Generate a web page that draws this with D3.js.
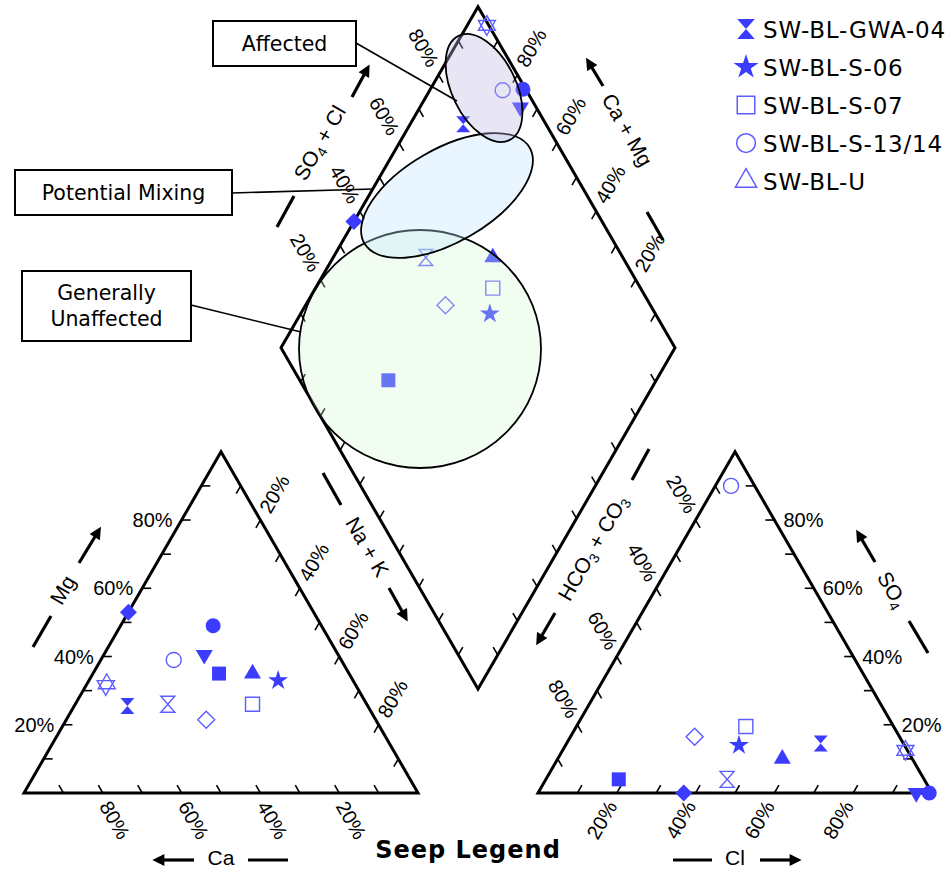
<!DOCTYPE html>
<html><head><meta charset="utf-8">
<script src="https://cdn.jsdelivr.net/npm/d3@7/dist/d3.min.js"></script>
<style>body{margin:0;background:#fff}svg{display:block}</style>
</head><body>
<script>
// ---------------- DATA ----------------
const sampleIds = ["seep-a","seep-b","seep-c","SW-BL-S-13/14","seep-d","seep-e","SW-BL-S-06","SW-BL-U","seep-f","SW-BL-GWA-04","seep-g","SW-BL-S-07","seep-h"];
// cations (% meq)
const caPct   = [47,   27.5, 34,   42.5, 33,   24.5, 19, 63,  63.5, 61,   50.5, 29, 43];
const mgPct   = [53,   49,   40.5, 39,   35,   35,   33, 32,  31.5, 25.5, 26,   26, 21.5];
const naKPct  = [0,    23.5, 25.5, 18.5, 32,   40.5, 48, 5,   5,    13.5, 23.5, 45, 35.5];
// anions (% meq)
const hco3Pct = [63,   0.7,  4,    6,    77.5, 33,   42, 0.5, 0.5,  21,   50,   37.5, 52];
const so4Pct  = [0,    0,    0,    90,   4,    10,   14, 12.5,12.5, 14.5, 4,    19.5, 16.5];
const clPct   = [37,   99.3, 96,   4,    18.5, 57,   44, 87,  87,   64.5, 46,   43,   31.5];

const tickPct  = [10,20,30,40,50,60,70,80,90];
const labelPct = [20,40,60,80];
const legendNames = ["SW-BL-GWA-04","SW-BL-S-06","SW-BL-S-07","SW-BL-S-13/14","SW-BL-U"];
const calloutTexts = [["Affected"],["Potential Mixing"],["Generally","Unaffected"]];

// ---------------- STYLES ----------------
const markerStyle = {
  "seep-a":{shape:"diamond",filled:true},
  "seep-b":{shape:"circle",filled:true},
  "seep-c":{shape:"triDown",filled:true},
  "SW-BL-S-13/14":{shape:"circle",filled:false},
  "seep-d":{shape:"square",filled:true},
  "seep-e":{shape:"triUp",filled:true},
  "SW-BL-S-06":{shape:"star",filled:true},
  "SW-BL-U":{shape:"triUp",filled:false},
  "seep-f":{shape:"triDown",filled:false},
  "SW-BL-GWA-04":{shape:"hourglass",filled:true},
  "seep-g":{shape:"hourglass",filled:false},
  "SW-BL-S-07":{shape:"square",filled:false},
  "seep-h":{shape:"diamond",filled:false}
};
const FILL="#3c3cff", OPEN="#5c5cff";
const LABEL_FONT="'Liberation Sans', Arial, sans-serif";
const BOX_FONT="'DejaVu Sans', Verdana, sans-serif";

// ---------------- GEOMETRY ----------------
const W=946,H=870;
const S=394, GAP=120, X0=24, BASE=793;
const R3=Math.sqrt(3);
const HT=S*R3/2;
const X1=X0+S+GAP;

const svg=d3.select("body").append("svg").attr("width",W).attr("height",H);

const frac=d3.scaleLinear().domain([0,100]).range([0,1]);
const catX=d3.scaleLinear().domain([0,100]).range([X0,X0+S]);
const anX =d3.scaleLinear().domain([0,100]).range([X1,X1+S]);
const triY=d3.scaleLinear().domain([0,100]).range([BASE,BASE-HT]);

const CaV=[X0,BASE], NaV=[X0+S,BASE], MgV=[X0+S/2,BASE-HT];
const HcV=[X1,BASE], ClV=[X1+S,BASE], SoV=[X1+S/2,BASE-HT];
const DB=[X0+S+GAP/2, BASE-GAP*R3/2];
const DL=[DB[0]-S/2, DB[1]-HT], DT=[DB[0], DB[1]-2*HT], DR=[DB[0]+S/2, DB[1]-HT];
const dNaX=d3.scaleLinear().domain([0,100]).range([0,DB[0]-DL[0]]);
const dNaY=d3.scaleLinear().domain([0,100]).range([0,DB[1]-DL[1]]);
const dScX=d3.scaleLinear().domain([0,100]).range([0,DT[0]-DL[0]]);
const dScY=d3.scaleLinear().domain([0,100]).range([0,DT[1]-DL[1]]);

const samples=sampleIds.map((id,i)=>({
  id, ca:caPct[i], mg:mgPct[i], na:naKPct[i], hc:hco3Pct[i], so:so4Pct[i], cl:clPct[i]
}));
const catPos=d=>[catX(d.na+d.mg/2), triY(d.mg)];
const anPos =d=>[anX(d.cl+d.so/2), triY(d.so)];
const diaPos=d=>{const sc=d.so+d.cl; return [DL[0]+dNaX(d.na)+dScX(sc), DL[1]+dNaY(d.na)+dScY(sc)];};

// ---------------- FRAMES ----------------
const frame=svg.append("g");
const line=d3.line();
frame.append("path").attr("d",line([CaV,NaV,MgV])+"Z");
frame.append("path").attr("d",line([HcV,ClV,SoV])+"Z");
frame.append("path").attr("d",line([DL,DT,DR,DB])+"Z");
frame.selectAll("path").attr("fill","none").attr("stroke","#000").attr("stroke-width",3).attr("stroke-linejoin","miter");

const TL=9, C5=0.5, S8=R3/2;
function edgeTicks(p0,p1,dir,labels){
  const g=svg.append("g");
  const pts=tickPct.map(v=>{const f=frac(v);return {v,x:p0[0]+f*(p1[0]-p0[0]),y:p0[1]+f*(p1[1]-p0[1])};});
  g.selectAll("line").data(pts).join("line")
    .attr("x1",d=>d.x).attr("y1",d=>d.y)
    .attr("x2",d=>d.x+dir[0]*TL).attr("y2",d=>d.y+dir[1]*TL)
    .attr("stroke","#000").attr("stroke-width",1.6);
  if(!labels) return;
  const lp=pts.filter(d=>labelPct.includes(d.v));
  g.selectAll("text").data(lp).join("text")
    .attr("font-family",LABEL_FONT).attr("font-size",20).attr("fill","#000")
    .attr("text-anchor",labels.anchor||"middle")
    .attr("dy","0.35em")
    .attr("transform",d=>`translate(${d.x+labels.dx},${d.y+labels.dy}) rotate(${labels.rot})`)
    .text(d=>d.v+"%");
}
// cation triangle
edgeTicks(CaV,MgV,[1,0],{dx:-9,dy:0,rot:0,anchor:"end"});
edgeTicks(NaV,CaV,[-C5,-S8],{dx:12,dy:27,rot:60});
edgeTicks(MgV,NaV,[-C5,S8],{dx:14,dy:-26,rot:-60});
// anion triangle
edgeTicks(ClV,SoV,[-1,0],{dx:9,dy:0,rot:0,anchor:"start"});
edgeTicks(HcV,ClV,[C5,-S8],{dx:-15,dy:27,rot:-60});
edgeTicks(SoV,HcV,[C5,S8],{dx:-14,dy:-26,rot:60});
// diamond
edgeTicks(DL,DT,[C5,S8],{dx:-15,dy:-27,rot:60});
edgeTicks(DR,DT,[-C5,S8],{dx:14,dy:-27,rot:-60});
edgeTicks(DL,DB,[C5,-S8],null);
edgeTicks(DR,DB,[-C5,-S8],null);

// ---------------- AXIS TITLES ----------------
const defs=svg.append("defs");
defs.append("marker").attr("id","ah").attr("viewBox","0 0 10 10").attr("refX",2).attr("refY",5)
  .attr("markerWidth",13).attr("markerHeight",12).attr("markerUnits","userSpaceOnUse").attr("orient","auto")
  .append("path").attr("d","M0,0 L10,5 L0,10 Z").attr("fill","#000");
function seg(x1,y1,x2,y2,arrow){
  svg.append("line").attr("x1",x1).attr("y1",y1).attr("x2",x2).attr("y2",y2)
    .attr("stroke","#000").attr("stroke-width",3.2)
    .attr("marker-end",arrow?"url(#ah)":null);
}
function title(x,y,rot,parts){
  const t=svg.append("text").attr("font-family",LABEL_FONT).attr("font-size",21)
    .attr("text-anchor","middle").attr("transform",`translate(${x},${y}) rotate(${rot})`).attr("y",7);
  let down=false;
  parts.forEach(p=>{
    if(typeof p==="string"){
      const ts=t.append("tspan").text(p);
      if(down){ts.attr("dy",-4); down=false;}
    } else {
      t.append("tspan").attr("font-size",14).attr("dy",4).text(p.sub);
      down=true;
    }
  });
}
title(63,590,-60,["Mg"]);
seg(33,647,51,616,false); seg(79,563,96,535,true);
title(221,858,0,["Ca"]);
seg(194,860,162,860,true); seg(248,860,288,860,false);
title(367,547,60,["Na + K"]);
seg(323,473,341,505,false); seg(389,588,403,613,true);
title(593,548,-60,["HCO",{sub:"3"}," + CO",{sub:"3"}]);
seg(555,613,541,637,true); seg(632,480,649,449,false);
title(735,858,0,["Cl"]);
seg(673,860,712,860,false); seg(760,860,792,860,true);
title(892,590,60,["SO",{sub:"4"}]);
seg(875,562,861,538,true); seg(909,621,928,653,false);
title(320,143,-60,["SO",{sub:"4"}," + Cl"]);
seg(277,227,294,196,false); seg(352,97,365,73,true);
title(627,130,60,["Ca + Mg"]);
seg(603,86,591,66,true); seg(647,212,663,240,false);

// ---------------- MARKERS ----------------
function markerPath(shape,k){
  switch(shape){
    case "circle": return d3.symbol(d3.symbolCircle, Math.PI*Math.pow(7.5*k,2))();
    case "square": {const r=7*k; return `M${-r},${-r}h${2*r}v${2*r}h${-2*r}Z`;}
    case "diamond":{const r=8.5*k; return `M0,${-r}L${r},0L0,${r}L${-r},0Z`;}
    case "triUp":  {const a=17*k,h=a*R3/2; return `M0,${-2*h/3}L${a/2},${h/3}L${-a/2},${h/3}Z`;}
    case "triDown":{const a=17*k,h=a*R3/2; return `M0,${2*h/3}L${a/2},${-h/3}L${-a/2},${-h/3}Z`;}
    case "star":   return d3.symbol(d3.symbolStar, Math.pow(10.5*k,2)/0.8908)();
    case "hourglass":{const w=7*k,h=8*k; return `M${-w},${-h}L${w},${-h}L${-w},${h}L${w},${h}Z`;}
  }
}
function drawMarkers(posFn){
  const g=svg.append("g");
  g.selectAll("path").data(samples).join("path")
    .attr("transform",d=>{const p=posFn(d);return `translate(${p[0]},${p[1]})`;})
    .attr("d",d=>markerPath(markerStyle[d.id].shape,1))
    .attr("fill",d=>markerStyle[d.id].filled?FILL:"none")
    .attr("stroke",d=>markerStyle[d.id].filled?"none":OPEN)
    .attr("stroke-width",1.4).attr("stroke-linejoin","miter");
}
drawMarkers(catPos);
drawMarkers(anPos);
drawMarkers(diaPos);

// ---------------- ZONES ----------------
const zones=svg.append("g").attr("stroke","#000").attr("stroke-width",1.8);
zones.append("ellipse").attr("cx",420).attr("cy",349).attr("rx",121).attr("ry",119)
  .attr("fill","rgb(212,248,212)").attr("fill-opacity",0.3);
zones.append("ellipse").attr("transform","translate(447,195.5) rotate(-30)").attr("rx",95.5).attr("ry",46.5)
  .attr("fill","rgb(195,229,255)").attr("fill-opacity",0.35);
zones.append("ellipse").attr("transform","translate(484,88) rotate(64)").attr("rx",58).attr("ry",32)
  .attr("fill","rgb(189,184,224)").attr("fill-opacity",0.35);

// ---------------- CALLOUTS ----------------
const callouts=[
  {box:[213,21,143,45], lead:[356,43,457,101]},
  {box:[15,170,217,45], lead:[232,193,373,189]},
  {box:[22,271,169,70], lead:[191,305,301,332]}
];
callouts.forEach((c,i)=>{
  svg.append("line").attr("x1",c.lead[0]).attr("y1",c.lead[1]).attr("x2",c.lead[2]).attr("y2",c.lead[3])
    .attr("stroke","#000").attr("stroke-width",1.6);
  svg.append("rect").attr("x",c.box[0]).attr("y",c.box[1]).attr("width",c.box[2]).attr("height",c.box[3])
    .attr("fill","#fff").attr("stroke","#000").attr("stroke-width",2);
  const lines=calloutTexts[i];
  const cx=c.box[0]+c.box[2]/2, cy=c.box[1]+c.box[3]/2;
  lines.forEach((t,j)=>{
    svg.append("text").attr("x",cx).attr("y",cy+(j-(lines.length-1)/2)*26+7)
      .attr("text-anchor","middle").attr("font-family",BOX_FONT).attr("font-size",20.5).text(t);
  });
});

// ---------------- LEGEND ----------------
const lg=svg.append("g");
legendNames.forEach((name,i)=>{
  const y=29+i*38;
  const st=markerStyle[name];
  lg.append("path").attr("transform",`translate(746,${y})`).attr("d",markerPath(st.shape,1.25))
    .attr("fill",st.filled?FILL:"none").attr("stroke",st.filled?"none":OPEN).attr("stroke-width",1.5);
  lg.append("text").attr("x",763).attr("y",y+9).attr("font-family",BOX_FONT).attr("font-size",23)
    .attr("letter-spacing",0.8).text(name);
});
svg.append("text").attr("x",468).attr("y",858).attr("text-anchor","middle")
  .attr("font-family",BOX_FONT).attr("font-weight","bold").attr("font-size",24).attr("letter-spacing",1)
  .text("Seep Legend");
</script>
</body></html>
